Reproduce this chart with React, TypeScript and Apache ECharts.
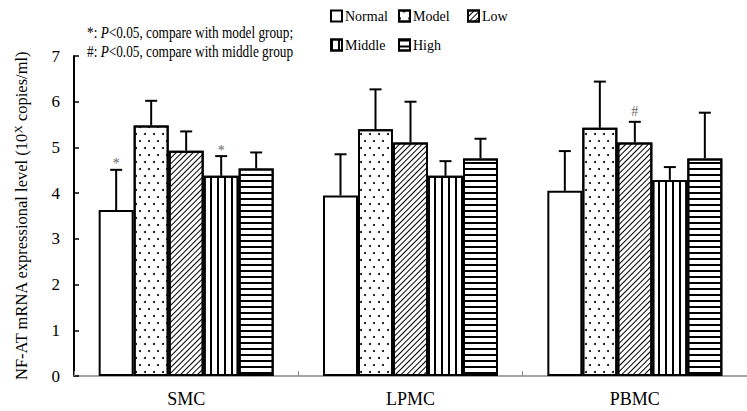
import React, { useEffect, useRef } from "react";
import * as echarts from "echarts";

const categories = ["SMC", "LPMC", "PBMC"];
const groups = ["Normal", "Model", "Low", "Middle", "High"];

const normalMean = [3.63, 3.95, 4.05];
const normalSD = [0.88, 0.9, 0.87];
const modelMean = [5.48, 5.4, 5.43];
const modelSD = [0.54, 0.87, 1.01];
const lowMean = [4.93, 5.11, 5.11];
const lowSD = [0.42, 0.89, 0.45];
const middleMean = [4.38, 4.38, 4.29];
const middleSD = [0.43, 0.32, 0.28];
const highMean = [4.54, 4.76, 4.76];
const highSD = [0.35, 0.43, 1.0];

const yTicks = [0, 1, 2, 3, 4, 5, 6, 7];

const sigMarks = [
  { category: "SMC", group: "Normal", mark: "*" },
  { category: "SMC", group: "Middle", mark: "*" },
  { category: "PBMC", group: "Low", mark: "#" },
];

const means = [normalMean, modelMean, lowMean, middleMean, highMean];
const sds = [normalSD, modelSD, lowSD, middleSD, highSD];

const FONT = '"Liberation Serif", "Times New Roman", serif';
const BAR_W = 35;
const CAP = 6;

const decals: any[] = [
  null,
  {
    symbol: "circle",
    symbolSize: 1,
    color: "#000",
    dashArrayX: [
      [1.5, 6.5],
      [0, 4, 1.5, 2.5],
    ],
    dashArrayY: [1.5, 4.5],
  },
  {
    symbol: "rect",
    symbolSize: 1,
    color: "#000",
    dashArrayX: [1, 0],
    dashArrayY: [1, 2.2],
    rotation: -Math.PI / 4,
  },
  {
    symbol: "rect",
    symbolSize: 1,
    color: "#000",
    dashArrayX: [1.3, 4.2],
    dashArrayY: [1, 0],
  },
  {
    symbol: "rect",
    symbolSize: 1,
    color: "#000",
    dashArrayX: [1, 0],
    dashArrayY: [1.4, 3.8],
  },
];

const legendPos = [
  { left: 330, top: 9 },
  { left: 398, top: 9 },
  { left: 467, top: 9 },
  { left: 330, top: 38 },
  { left: 398, top: 38 },
];

export default function App() {
  const ref = useRef<HTMLDivElement>(null);
  useEffect(() => {
    document.body.style.margin = "0";
    const chart = echarts.init(ref.current!, null, { renderer: "svg" });

    const barSeries = groups.map((g, k) => ({
      name: g,
      type: "bar",
      data: means[k],
      barWidth: BAR_W,
      barGap: "0%",
      itemStyle: {
        color: "#fff",
        borderColor: "#000",
        borderWidth: 2,
        ...(decals[k] ? { decal: decals[k] } : {}),
      },
      emphasis: { disabled: true },
      z: 2,
    }));

    const errData: number[][] = [];
    groups.forEach((g, k) => {
      categories.forEach((c, i) => {
        errData.push([i, k, means[k][i], means[k][i] + sds[k][i]]);
      });
    });

    const markData = sigMarks.map((m) => {
      const i = categories.indexOf(m.category);
      const k = groups.indexOf(m.group);
      return [i, k, means[k][i] + sds[k][i]];
    });

    const annotStyle = (text: string) => ({
      text,
      fontSize: 16,
      fontFamily: FONT,
      fill: "#000",
      verticalAlign: "middle",
      rich: { i: { fontStyle: "italic", fontSize: 16, fontFamily: FONT, fill: "#000" } },
    });

    const option: any = {
      animation: false,
      backgroundColor: "#fff",
      textStyle: { fontFamily: FONT },
      grid: { left: 74, top: 56, width: 681, height: 320, containLabel: false },
      legend: groups.map((g, k) => ({
        data: [g],
        left: legendPos[k].left,
        top: legendPos[k].top,
        itemWidth: 11,
        itemHeight: 11,
        padding: 0,
        selectedMode: false,
        icon: "rect",
        textStyle: { fontFamily: FONT, fontSize: 14, color: "#000", padding: [0, 0, 0, -2] },
      })),
      xAxis: {
        type: "category",
        data: categories,
        axisLine: { lineStyle: { color: "#888", width: 1.5 } },
        axisTick: { show: true, inside: true, length: 5, lineStyle: { color: "#888" } },
        axisLabel: { color: "#000", fontSize: 18, fontFamily: FONT, margin: 14 },
      },
      yAxis: {
        type: "value",
        min: yTicks[0],
        max: yTicks[yTicks.length - 1],
        interval: 1,
        splitLine: { show: false },
        axisLine: { show: true, lineStyle: { color: "#000", width: 2 } },
        axisTick: { show: true, inside: true, length: 5, lineStyle: { color: "#000", width: 1.5 } },
        axisLabel: { color: "#000", fontSize: 17, fontFamily: FONT, margin: 14 },
        name: "NF-AT mRNA expressional level (10{sup|X} copies/ml)",
        nameLocation: "middle",
        nameGap: 44,
        nameTextStyle: {
          color: "#000",
          fontSize: 16.5,
          fontFamily: FONT,
          rich: {
            sup: { fontSize: 11, fontFamily: FONT, color: "#000", padding: [0, 0, 7, 0] },
          },
        },
      },
      graphic: [
        {
          type: "text",
          x: 87,
          y: 33,
          scaleX: 0.83,
          style: annotStyle("*: {i|P}<0.05, compare with model group;"),
        },
        {
          type: "text",
          x: 87,
          y: 52,
          scaleX: 0.83,
          style: annotStyle("#: {i|P}<0.05, compare with middle group"),
        },
      ],
      series: [
        ...barSeries,
        {
          type: "custom",
          name: "error",
          data: errData,
          encode: { x: 0, y: 3 },
          z: 3,
          silent: true,
          renderItem: (params: any, api: any) => {
            const cat = api.value(0);
            const k = api.value(1);
            const mean = api.value(2);
            const top = api.value(3);
            const base = api.coord([cat, mean]);
            const tp = api.coord([cat, top]);
            const x = base[0] + (k - 2) * BAR_W;
            return {
              type: "group",
              children: [
                { type: "line", shape: { x1: x, y1: base[1], x2: x, y2: tp[1] }, style: { stroke: "#000", lineWidth: 2 } },
                { type: "line", shape: { x1: x - CAP, y1: tp[1], x2: x + CAP, y2: tp[1] }, style: { stroke: "#000", lineWidth: 2 } },
              ],
            };
          },
        },
        {
          type: "custom",
          name: "marks",
          data: markData,
          encode: { x: 0, y: 2 },
          z: 4,
          silent: true,
          renderItem: (params: any, api: any) => {
            const cat = api.value(0);
            const k = api.value(1);
            const top = api.value(2);
            const tp = api.coord([cat, top]);
            const x = tp[0] + (k - 2) * BAR_W;
            const m = sigMarks[params.dataIndex].mark;
            return {
              type: "text",
              x,
              y: tp[1] - (m === "*" ? 6 : 10),
              style: {
                text: m,
                fontSize: 14,
                fontFamily: FONT,
                fill: "#666",
                align: "center",
                verticalAlign: "middle",
              },
            };
          },
        },
      ],
    };

    chart.setOption(option);
    return () => chart.dispose();
  }, []);
  return <div ref={ref} style={{ width: 747, height: 411 }} />;
}
